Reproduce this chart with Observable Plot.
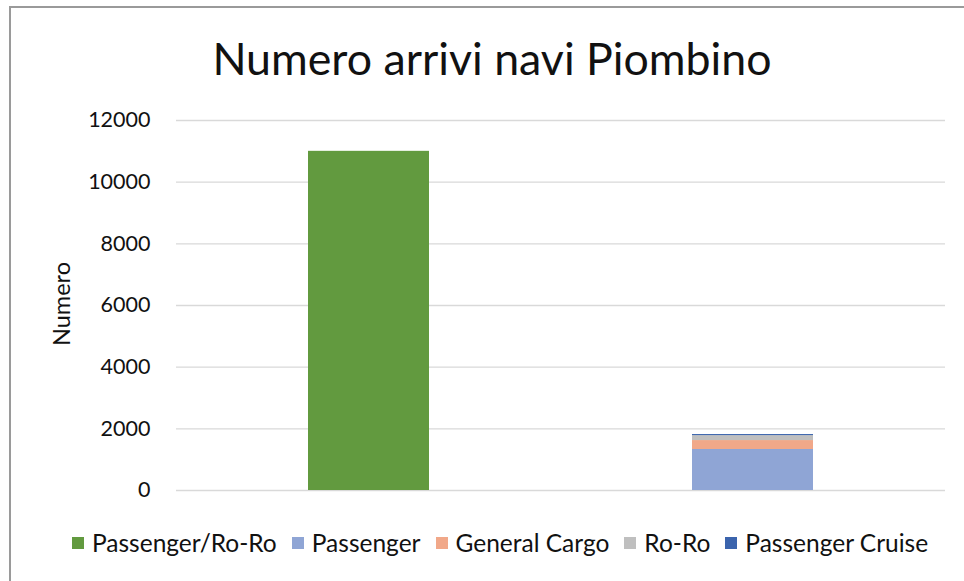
<!DOCTYPE html>
<html>
<head>
<meta charset="utf-8">
<script src="https://cdn.jsdelivr.net/npm/d3@7"></script>
<script src="https://cdn.jsdelivr.net/npm/@observablehq/plot@0.6"></script>
<style>
  html, body { margin: 0; padding: 0; background: #fff; }
  #wrap { position: relative; width: 964px; height: 581px; overflow: hidden; font-family: Lato, "Open Sans", sans-serif; color: #111; }
  #frame { position: absolute; left: 9px; top: 6px; width: 1200px; height: 900px; border-left: 2px solid #9a9a9a; border-top: 2px solid #9a9a9a; box-sizing: border-box; }
  #title { position: absolute; left: 0; width: 984px; top: 36px; text-align: center; font-size: 44.7px; line-height: 1; white-space: nowrap; }
  #ylabel { position: absolute; left: 61px; top: 304px; transform: translate(-50%, -50%) rotate(-90deg); font-size: 23.5px; white-space: nowrap; }
  #legend { position: absolute; left: 72px; top: 528px; display: flex; align-items: center; font-size: 24.5px; white-space: nowrap; }
  .item { display: flex; align-items: center; margin-right: 15px; }
  .sw { width: 12px; height: 12px; margin-right: 8px; }
  #chart { position: absolute; left: 0; top: 0; }
</style>
</head>
<body>
<div id="wrap">
  <div id="frame"></div>
  <div id="chart"></div>
  <div id="title"></div>
  <div id="ylabel"></div>
  <div id="legend"></div>
</div>
<script>
const titleText = "Numero arrivi navi Piombino";
const yLabel = "Numero";
const categories = ["Passenger/Ro-Ro", "Altre navi"];
const series = ["Passenger/Ro-Ro", "Passenger", "General Cargo", "Ro-Ro", "Passenger Cruise"];
const colors = ["#629a3f", "#8fa5d5", "#f1a889", "#bfbfbf", "#3b64ad"];
const valuesCat1 = [11000, 0, 0, 0, 0];
const valuesCat2 = [0, 1330, 290, 160, 35];
const yTicks = [0, 2000, 4000, 6000, 8000, 10000, 12000];

const rows = [];
[valuesCat1, valuesCat2].forEach((vals, ci) => {
  vals.forEach((v, si) => rows.push({cat: categories[ci], series: series[si], value: v}));
});

const chart = Plot.plot({
  width: 964,
  height: 581,
  marginTop: 120,
  marginBottom: 91,
  marginLeft: 176,
  marginRight: 19,
  style: {fontFamily: "Lato, 'Open Sans', sans-serif", background: "transparent"},
  x: {domain: categories, axis: null, paddingInner: 0.6853, paddingOuter: 0.34265},
  y: {domain: [0, 12000]},
  color: {domain: series, range: colors},
  marks: [
    Plot.ruleY(yTicks, {stroke: "#d9d9d9", strokeWidth: 1.3}),
    Plot.axisY({ticks: yTicks, tickSize: 0, tickPadding: 26, fontSize: 21.5, label: null, tickFormat: d => String(d), fill: "#111"}),
    Plot.barY(rows, {x: "cat", y: "value", fill: "series", order: series})
  ]
});
document.getElementById("chart").appendChild(chart);
document.getElementById("title").textContent = titleText;
document.getElementById("ylabel").textContent = yLabel;
const lg = document.getElementById("legend");
series.forEach((s, i) => {
  const it = document.createElement("div"); it.className = "item";
  const sw = document.createElement("div"); sw.className = "sw"; sw.style.background = colors[i];
  const tx = document.createElement("span"); tx.textContent = s;
  it.appendChild(sw); it.appendChild(tx); lg.appendChild(it);
});
</script>
</body>
</html>
